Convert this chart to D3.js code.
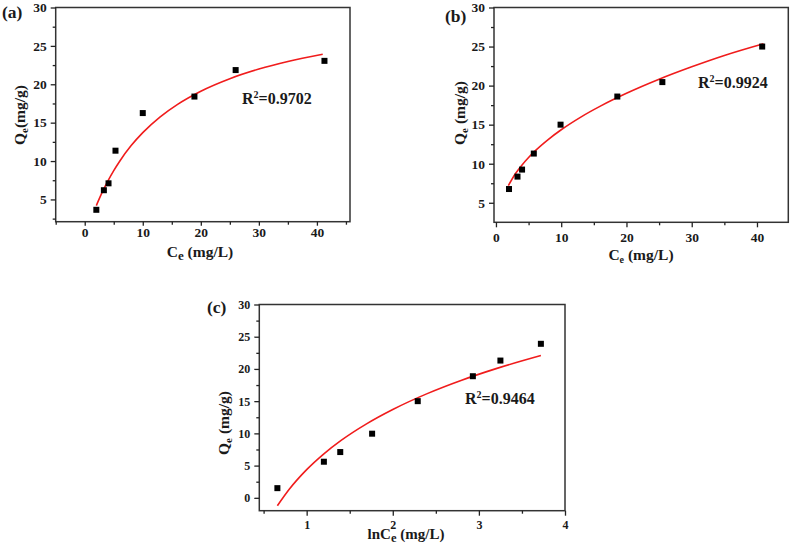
<!DOCTYPE html>
<html><head><meta charset="utf-8">
<script src="https://cdn.jsdelivr.net/npm/d3@7/dist/d3.min.js"></script>
<style>
html,body{margin:0;padding:0;background:#fff;}
svg{display:block;font-family:"Liberation Serif","Times New Roman",serif;font-weight:bold;}
</style></head>
<body>
<svg id="chart" width="790" height="544"></svg>
<script>
// ---- Data ----
// Panel (a) Langmuir
const ceA = [2.0, 3.3, 4.1, 5.3, 10.0, 18.9, 26.0, 41.3];
const qeA = [3.65, 6.2, 7.1, 11.35, 16.25, 18.4, 21.85, 23.05];
const fitCeA = [2, 3, 4, 5, 6, 8, 10, 13, 16, 20, 25, 30, 35, 41];
const fitQeA = [4.2, 5.91, 7.42, 8.76, 9.95, 12.01, 13.7, 15.76, 17.39, 19.1, 20.73, 21.98, 22.97, 23.92];
// Panel (b) Freundlich
const ceB = [2.0, 3.3, 4.0, 5.8, 9.9, 18.6, 25.5, 40.8];
const qeB = [6.76, 8.35, 9.25, 11.3, 15.0, 18.6, 20.45, 25.0];
const fitCeB = [1.9, 3, 4, 5, 6, 8, 10, 13, 16, 20, 25, 30, 35, 41];
const fitQeB = [7.2, 8.75, 9.85, 10.8, 11.65, 13.1, 14.35, 15.97, 17.37, 19.01, 20.81, 22.4, 23.85, 25.35];
// Panel (c) Temkin
const lnCeC = [0.66, 1.2, 1.39, 1.76, 2.29, 2.93, 3.25, 3.72];
const qeC = [1.5, 5.6, 7.1, 9.95, 15.0, 18.87, 21.3, 23.9];
const fitLnCeC = [0.66, 0.8, 1.0, 1.2, 1.4, 1.7, 2.0, 2.4, 2.8, 3.2, 3.72];
const fitQeC = [-1.23, 1.36, 4.37, 6.83, 8.91, 11.52, 13.71, 16.17, 18.25, 20.05, 22.08];
// Ticks
const ticksXA = [0, 10, 20, 30, 40];
const minorXA = [-5, 5, 15, 25, 35, 45];
const ticksYA = [5, 10, 15, 20, 25, 30];
const minorYA = [2.5, 7.5, 12.5, 17.5, 22.5, 27.5];
const ticksXB = [0, 10, 20, 30, 40];
const minorXB = [5, 15, 25, 35];
const ticksYB = [5, 10, 15, 20, 25, 30];
const minorYB = [7.5, 12.5, 17.5, 22.5, 27.5];
const ticksXC = [1, 2, 3, 4];
const minorXC = [0.5, 1.5, 2.5, 3.5];
const ticksYC = [0, 5, 10, 15, 20, 25, 30];
const minorYC = [-2.5, 2.5, 7.5, 12.5, 17.5, 22.5, 27.5];
const r2Labels = ["0.9702", "0.9924", "0.9464"];
const panelLabels = ["(a)", "(b)", "(c)"];

const svg = d3.select("#chart");

function panel(cfg) {
  const {left, right, top, bottom, xd, yd} = cfg;
  const x = d3.scaleLinear().domain(xd).range([left, right]);
  const y = d3.scaleLinear().domain(yd).range([bottom, top]);
  const g = svg.append("g");

  // frame
  g.append("rect").attr("x", left).attr("y", top)
    .attr("width", right - left).attr("height", bottom - top)
    .attr("fill", "none").attr("stroke", "#333").attr("stroke-width", 1.5);

  const styleAxis = sel => {
    sel.select(".domain").remove();
    sel.selectAll("line").attr("stroke", "#222").attr("stroke-width", 1.3);
    sel.selectAll("text").attr("font-family", "Liberation Serif, serif")
      .attr("font-weight", "bold").attr("font-size", cfg.tickFont).attr("fill", "#1a1a1a");
  };
  const inRangeX = v => v >= xd[0] && v <= xd[1];
  const inRangeY = v => v >= yd[0] && v <= yd[1];

  g.append("g").attr("transform", `translate(0,${bottom})`)
    .call(d3.axisBottom(x).tickValues(cfg.tx).tickSize(cfg.xTick).tickPadding(cfg.xPad).tickFormat(d3.format("d")))
    .call(styleAxis);
  g.append("g").attr("transform", `translate(0,${bottom})`)
    .call(d3.axisBottom(x).tickValues(cfg.mx.filter(inRangeX)).tickSize(3).tickFormat(""))
    .call(styleAxis);
  g.append("g").attr("transform", `translate(${left},0)`)
    .call(d3.axisLeft(y).tickValues(cfg.ty).tickSize(5).tickPadding(4).tickFormat(d3.format("d")))
    .call(styleAxis);
  g.append("g").attr("transform", `translate(${left},0)`)
    .call(d3.axisLeft(y).tickValues(cfg.my.filter(inRangeY)).tickSize(3).tickFormat(""))
    .call(styleAxis);

  // fit line
  const line = d3.line().x(d => x(d[0])).y(d => y(d[1])).curve(d3.curveMonotoneX);
  g.append("path").datum(d3.zip(cfg.fx, cfg.fy))
    .attr("d", line).attr("fill", "none").attr("stroke", "#f01c1c").attr("stroke-width", 1.6);

  // points
  const s = 6;
  g.selectAll("rect.pt").data(d3.zip(cfg.px, cfg.py)).join("rect")
    .attr("class", "pt")
    .attr("x", d => x(d[0]) - s / 2).attr("y", d => y(d[1]) - s / 2)
    .attr("width", s).attr("height", s).attr("fill", "#000");

  // R2
  const r = g.append("text").attr("x", cfg.r2x).attr("y", cfg.r2y)
    .attr("font-size", 16).attr("fill", "#1a1a1a");
  r.append("tspan").text("R");
  r.append("tspan").attr("font-size", 10).attr("dy", -6).text("2");
  r.append("tspan").attr("dy", 6).text("=" + cfg.r2);

  // panel label
  g.append("text").attr("x", cfg.plx).attr("y", cfg.ply)
    .attr("font-size", 17.5).attr("fill", "#1a1a1a").text(cfg.pl);

  // x title
  const xt = g.append("text").attr("x", cfg.xtx).attr("y", cfg.xty)
    .attr("text-anchor", "middle").attr("font-size", cfg.xtFont).attr("fill", "#1a1a1a");
  xt.append("tspan").text(cfg.xPre);
  xt.append("tspan").attr("font-size", cfg.subSize).attr("dy", 3).text("e");
  xt.append("tspan").attr("dy", -3).text(" (mg/L)");

  // y title
  const yt = g.append("text")
    .attr("transform", `translate(${cfg.ytx},${cfg.yty}) rotate(-90)`)
    .attr("text-anchor", "middle").attr("font-size", 15.5).attr("fill", "#1a1a1a");
  yt.append("tspan").text("Q");
  yt.append("tspan").attr("font-size", 11).attr("dy", 3).text("e");
  yt.append("tspan").attr("dy", -3).text(cfg.ySep + "(mg/g)");
}

panel({left: 55.7, right: 350, top: 7.5, bottom: 221.7, xd: [-5, 45.7], yd: [2.1, 30],
  tx: ticksXA, mx: minorXA, ty: ticksYA, my: minorYA, tickFont: 13.5, xTick: 4, xPad: 2,
  px: ceA, py: qeA, fx: fitCeA, fy: fitQeA,
  r2: r2Labels[0], r2x: 242, r2y: 104, pl: panelLabels[0], plx: 2, ply: 18,
  xPre: "C", subSize: 13, xtFont: 15.5, xtx: 200, xty: 257, ytx: 25, yty: 115, ySep: ""});

panel({left: 494, right: 788.3, top: 7.5, bottom: 222.3, xd: [-0.3, 44.8], yd: [2.5, 30],
  tx: ticksXB, mx: minorXB, ty: ticksYB, my: minorYB, tickFont: 13.5, xTick: 5, xPad: 5,
  px: ceB, py: qeB, fx: fitCeB, fy: fitQeB,
  r2: r2Labels[1], r2x: 698, r2y: 88, pl: panelLabels[1], plx: 445, ply: 22,
  xPre: "C", subSize: 10, xtFont: 15.5, xtx: 641, xty: 260, ytx: 465, yty: 113, ySep: " "});

panel({left: 259.3, right: 565, top: 304.5, bottom: 510.7, xd: [0.45, 4.0], yd: [-2, 30],
  tx: ticksXC, mx: minorXC, ty: ticksYC, my: minorYC, tickFont: 12, xTick: 5, xPad: 5,
  px: lnCeC, py: qeC, fx: fitLnCeC, fy: fitQeC,
  r2: r2Labels[2], r2x: 465, r2y: 404, pl: panelLabels[2], plx: 207, ply: 313,
  xPre: "lnC", subSize: 12.5, xtFont: 15, xtx: 406, xty: 539, ytx: 229, yty: 423, ySep: " "});
</script>
</body></html>
